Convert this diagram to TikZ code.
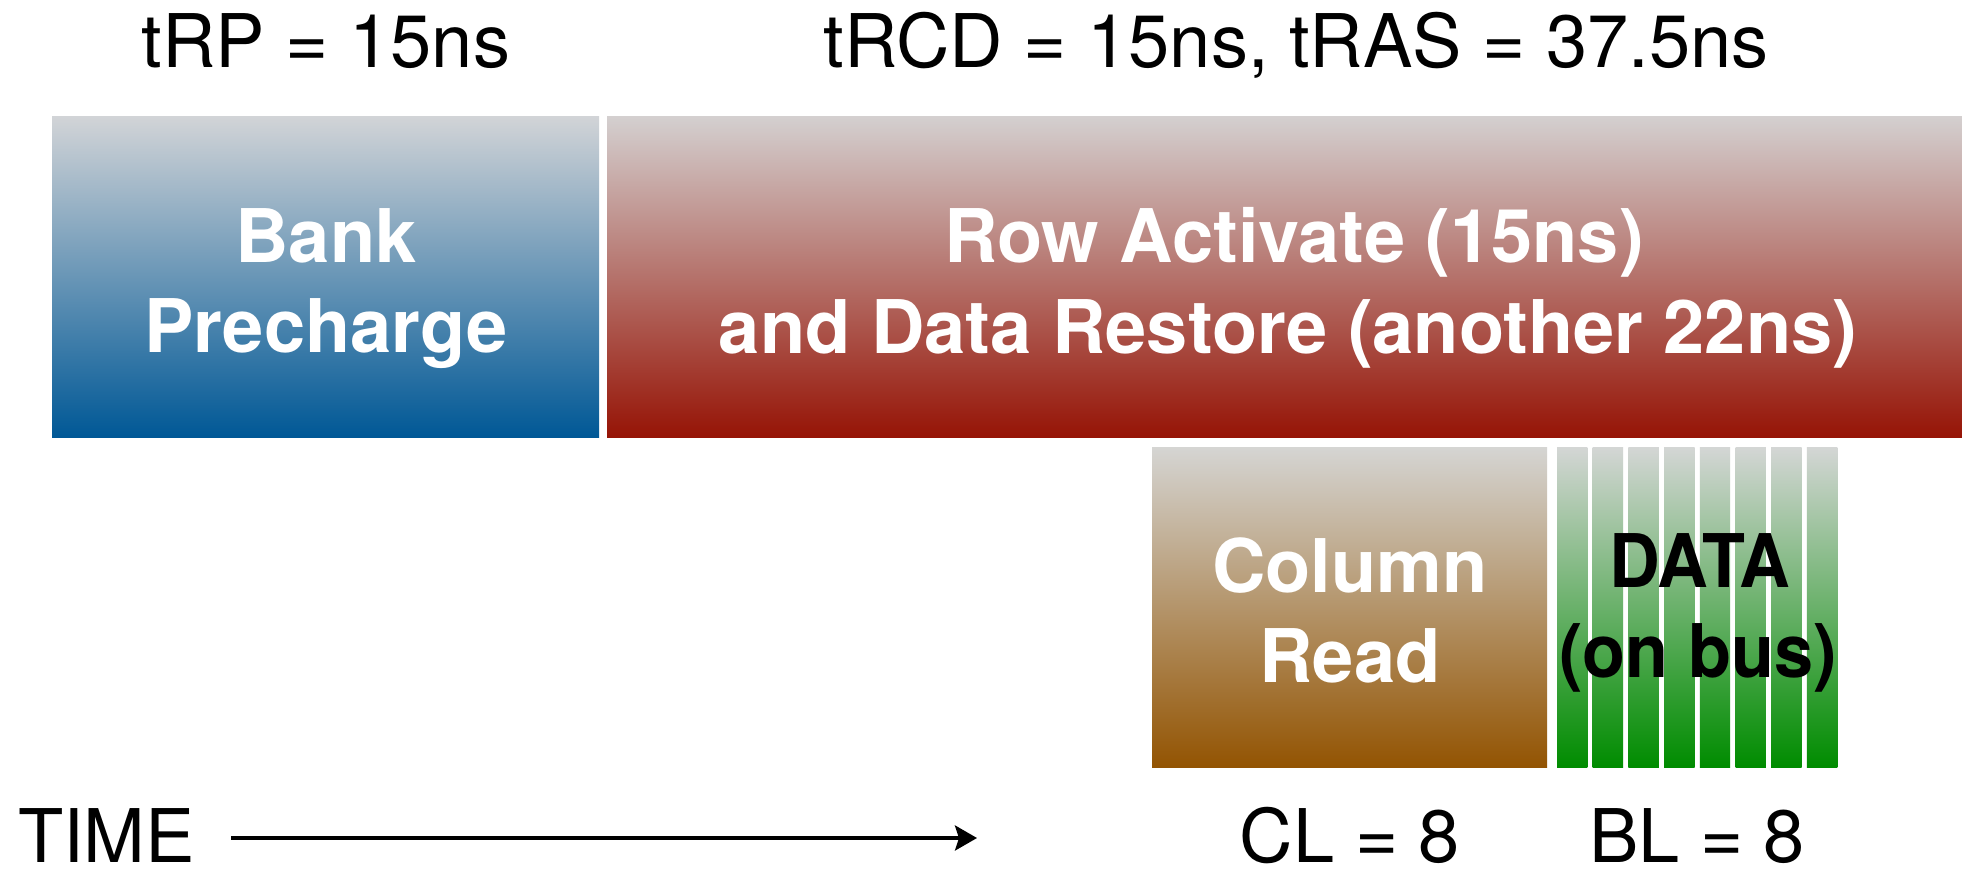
\documentclass[tikz,border=0pt]{standalone}
\usepackage{fontspec}
\setmainfont{TeX Gyre Heros}
\usetikzlibrary{arrows.meta}
\definecolor{blueTop}{RGB}{210,212,215}
\definecolor{blueBot}{RGB}{0,88,150}
\definecolor{redTop}{RGB}{212,208,208}
\definecolor{redBot}{RGB}{150,20,6}
\definecolor{brownTop}{RGB}{213,213,211}
\definecolor{brownBot}{RGB}{147,84,2}
\definecolor{greenTop}{RGB}{212,214,213}
\definecolor{greenBot}{RGB}{0,140,0}
\begin{document}
\begin{tikzpicture}[x=1pt,y=-1pt,
  blockbox/.style={rectangle, draw=none, inner sep=0pt, outer sep=0pt, anchor=north west},
  toplabel/.style={anchor=base, inner sep=0pt, font=\fontsize{74}{88}\selectfont, text=black},
  bottomlabel/.style={toplabel, text depth=0pt},
  blocktext/.style={anchor=base, inner sep=0pt, font=\fontsize{74}{88}\selectfont\bfseries, text=white},
  datatext/.style={anchor=base, inner sep=0pt, font=\fontsize{74}{88}\selectfont\bfseries, text=black},
  timearrow/.style={line width=3.5pt, -{Stealth[length=22pt, width=25pt, inset=4pt]}}
]
\useasboundingbox (0,0) rectangle (1962,870);
\fill[white] (0,0) rectangle (1962,870);

% timing labels
\node[toplabel] (trp) at (326,67) {tRP = 15ns};
\node[toplabel] (trcd) at (1296,67) {tRCD = 15ns, tRAS = 37.5ns};

% blocks
\node[blockbox, top color=blueTop, bottom color=blueBot, minimum width=547pt, minimum height=321pt] (bank) at (52,116) {};
\node[blockbox, top color=redTop, bottom color=redBot, minimum width=1355pt, minimum height=321pt] (row) at (607,116) {};
\node[blockbox, top color=brownTop, bottom color=brownBot, minimum width=395pt, minimum height=320pt] (col) at (1152,447) {};
\foreach \i in {0,...,7} {
  \node[blockbox, top color=greenTop, bottom color=greenBot, minimum width=30.4pt, minimum height=320pt] (d\i) at ({1557+\i*35.7},447) {};
}

% block texts
\node[blocktext] (bank1) at (326,262) {Bank};
\node[blocktext] (bank2) at (326,352) {Precharge};
\node[blocktext] (row1) at (1294,262) {Row Activate (15ns)};
\node[blocktext] (row2) at (1288,353) {and Data Restore (another 22ns)};
\node[blocktext] (col1) at (1350,592) {Column};
\node[blocktext] (col2) at (1350,682) {Read};
\node[datatext, xscale=0.95] (data1) at (1700,587) {DATA};
\node[datatext, xscale=0.95] (data2) at (1698,677) {(on bus)};

% bottom
\node[bottomlabel, anchor=base west] (time) at (18,862) {TIME};
\coordinate (ts) at (231,838);
\coordinate (te) at (977,838);
\draw[timearrow] (ts) -- (te);
\node[bottomlabel] (cl) at (1350,862) {CL = 8};
\node[bottomlabel] (bl) at (1697,862) {BL = 8};
\end{tikzpicture}
\end{document}
